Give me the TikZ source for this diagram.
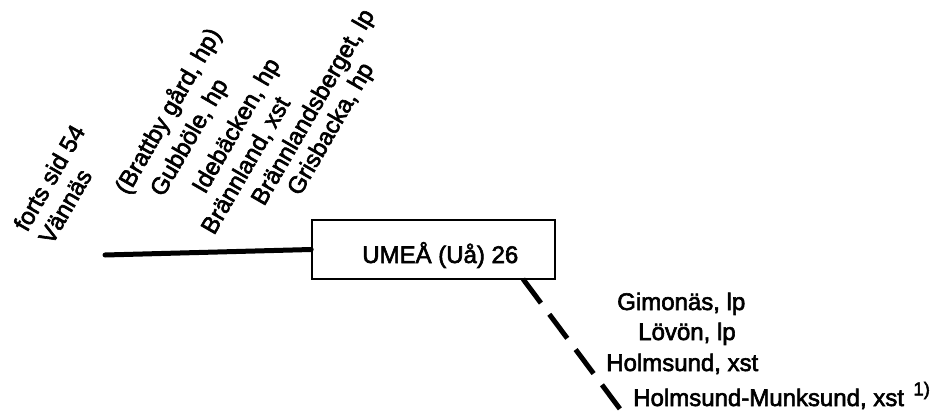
\documentclass[tikz,border=0pt]{standalone}
\usepackage{fontspec}
\setmainfont{Liberation Sans}
\newfontfamily\heavyfont{Liberation Sans}[FakeBold=2.5]
\begin{document}
\begin{tikzpicture}[x=0.75pt,y=-0.75pt,
  lbl/.style={font=\heavyfont\fontsize{18}{22.5}\selectfont, inner sep=0pt},
  rlbl/.style={lbl, rotate=60, anchor=base west},
  slbl/.style={lbl, anchor=base west},
  thickline/.style={line width=3.75pt},
  stationbox/.style={draw, line width=1.2pt, minimum width=182.25pt, minimum height=44.25pt, inner sep=0pt}]
\useasboundingbox (0,0) rectangle (937,417);
% rotated station names (west)
\node[rlbl] (forts) at (27,233) {forts sid 54};
\node[rlbl] (vannas) at (52,246) {Vännäs};
\node[rlbl] (brattby) at (128,196) {(Brattby gård, hp)};
\node[rlbl] (gubbole) at (163,198) {Gubböle, hp};
\node[rlbl] (idebacken) at (205,195) {Idebäcken, hp};
\node[rlbl] (brannland) at (214,236) {Brännland, xst};
\node[rlbl] (brannlandsberget) at (264,207) {Brännlandsberget, lp};
\node[rlbl] (grisbacka) at (300,197) {Grisbacka, hp};
% station box
\node[stationbox] (umea) at (433.5,249.5) {};
\node[slbl] (umealabel) at (362,263) {UMEÅ (Uå) 26};
% solid line to the west
\coordinate (west) at (105,255);
\draw[thickline, line cap=round] (west) -- (umea.west);
% dashed line to the south-east
\coordinate (dstart) at (523,279);
\coordinate (dend) at (620,409);
\draw[thickline, dash pattern=on 22.5pt off 10.5pt] (dstart) -- (dend);
% station names (south-east)
\node[slbl] (gimonas) at (617,310) {Gimonäs, lp};
\node[slbl] (lovon) at (638,340) {Lövön, lp};
\node[slbl] (holmsund) at (606,371) {Holmsund, xst};
\node[slbl] (munksund) at (633,406) {Holmsund-Munksund, xst\hspace{7pt}\raisebox{8pt}{\fontsize{14}{16}\selectfont 1)}};
\end{tikzpicture}
\end{document}
